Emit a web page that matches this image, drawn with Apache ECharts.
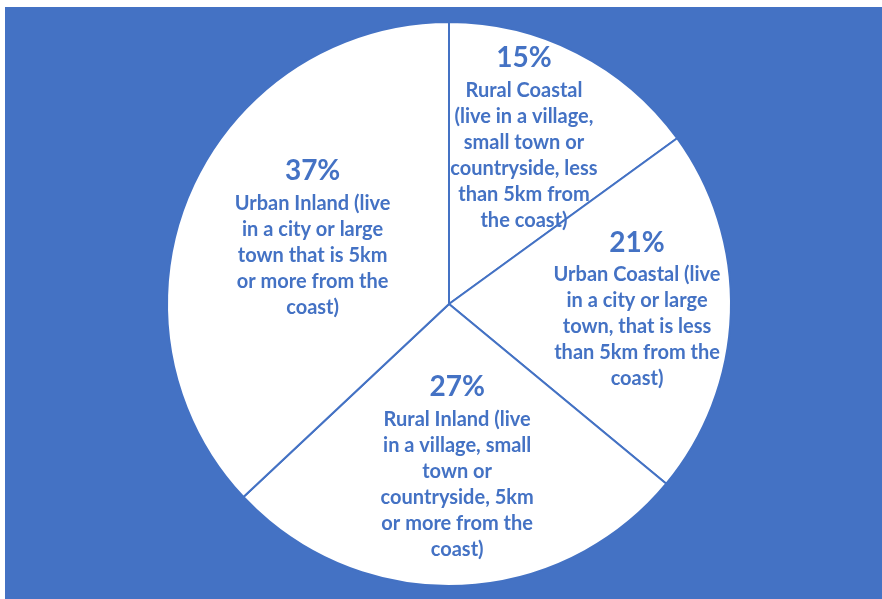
<!DOCTYPE html>
<html>
<head>
<meta charset="utf-8">
<script src="https://cdn.jsdelivr.net/npm/echarts@6/dist/echarts.min.js"></script>
<style>
html,body{margin:0;padding:0;background:#fff;}
#c{width:882px;height:599px;}
</style>
</head>
<body>
<div id="c"></div>
<script>
const categories = [
  "Rural Coastal\n(live in a village,\nsmall town or\ncountryside, less\nthan 5km from\nthe coast)",
  "Urban Coastal (live\nin a city or large\ntown, that is less\nthan 5km from the\ncoast)",
  "Rural Inland (live\nin a village, small\ntown or\ncountryside, 5km\nor more from the\ncoast)",
  "Urban Inland (live\nin a city or large\ntown that is 5km\nor more from the\ncoast)"
];
const values = [15, 21, 27, 37];

// label anchor placement: [fraction of radius, angle clockwise from top in degrees]
const labelPlace = [[0.651, 24.1], [0.667, 91.2], [0.572, 177.1], [0.540, 296.4]];
const CX = 449, CY = 304, R = 282;
const BLUE = '#4472C4';

const chart = echarts.init(document.getElementById('c'), null, {renderer: 'canvas'});
chart.setOption({
  backgroundColor: '#ffffff',
  animation: false,
  graphic: [{
    type: 'rect', z: -10, silent: true,
    shape: {x: 5, y: 7, width: 877, height: 592},
    style: {fill: BLUE}
  }],
  series: [{
    type: 'pie',
    center: [CX, CY],
    radius: R,
    startAngle: 90,
    clockwise: true,
    avoidLabelOverlap: false,
    itemStyle: {color: '#ffffff', borderColor: BLUE, borderWidth: 2},
    emphasis: {disabled: true},
    labelLine: {show: false},
    label: {
      show: true,
      position: 'inside',
      color: BLUE,
      fontFamily: 'Lato',
      fontWeight: 'bold',
      formatter: function (p) {
        const lines = p.name.split('\n');
        return '{p|' + p.value + '%}\n' + lines.map(l => '{t|' + l + '}').join('\n');
      },
      rich: {
        p: {fontSize: 28, lineHeight: 38, fontWeight: 'bold', fontFamily: 'Lato', color: BLUE, align: 'center'},
        t: {fontSize: 20, lineHeight: 26, fontWeight: 'bold', fontFamily: 'Lato', color: BLUE, align: 'center'}
      }
    },
    labelLayout: function (params) {
      const pl = labelPlace[params.dataIndex];
      const a = pl[1] * Math.PI / 180;
      return {
        x: CX + pl[0] * R * Math.sin(a),
        y: CY - pl[0] * R * Math.cos(a),
        align: 'center',
        verticalAlign: 'middle'
      };
    },
    data: categories.map((n, i) => ({name: n, value: values[i]}))
  }]
});
</script>
</body>
</html>
